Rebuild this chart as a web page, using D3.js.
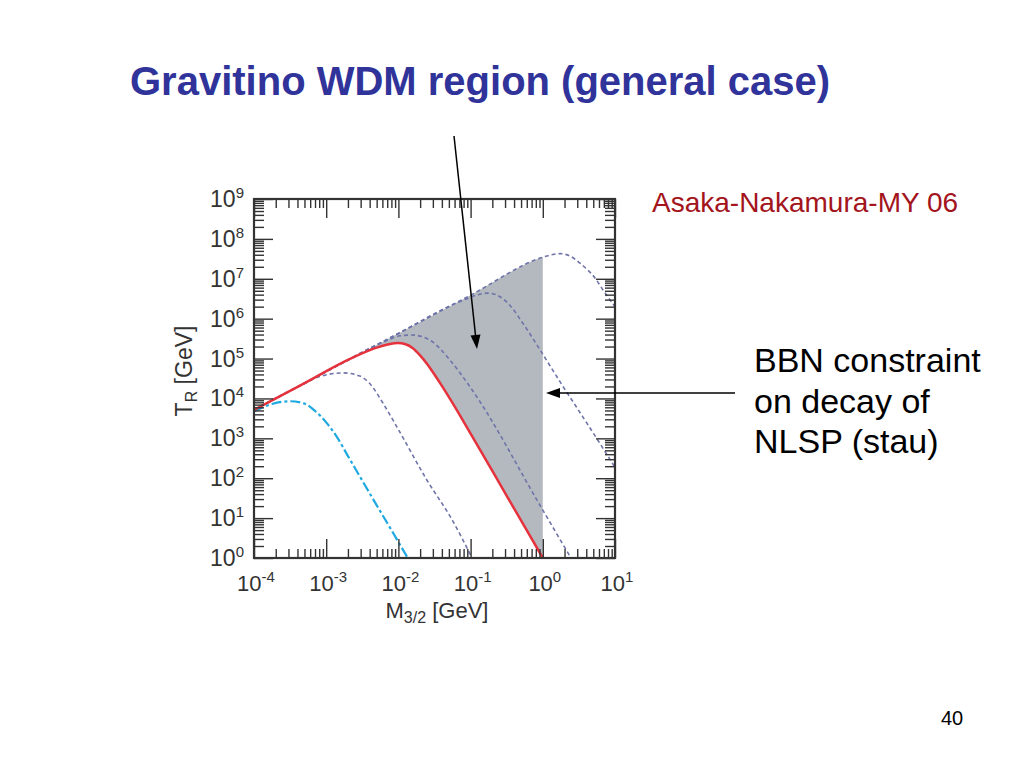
<!DOCTYPE html>
<html><head><meta charset="utf-8">
<script src="https://cdn.jsdelivr.net/npm/d3@7"></script>
<style>body{margin:0;background:#fff}svg{display:block}text{font-family:"Liberation Sans",Arial,sans-serif}</style>
</head><body>
<script>
// ---- data (log10 exponents) ----
const xTickExps = [-4, -3, -2, -1, 0, 1];
const yTickExps = [0, 1, 2, 3, 4, 5, 6, 7, 8, 9];
// red solid curve
const redM = [-4, -3.363, -2.67, -2.324, -2.15, -2.006, -1.9, -1.8, -1.7, -1.6, -1.5, -1.4, -1.285, -1.0, -0.5, 0, 0.1];
const redT = [3.71, 4.32, 4.99, 5.26, 5.35, 5.39, 5.36, 5.26, 5.08, 4.86, 4.6, 4.32, 3.99, 3.12, 1.56, 0, -0.31];
// dashed curves
const dM = [-4, -3.363, -2.67, -2, -1, 0, 0.139, 0.238, 0.377, 0.515, 0.723, 0.834, 1.0];
const dT = [3.71, 4.32, 4.99, 5.63, 6.59, 7.54, 7.61, 7.63, 7.57, 7.39, 7.02, 6.72, 6.3];
const cM = [-4, -2, -1.2, -1.05, -0.898, -0.759, -0.593, -0.454, -0.274, -0.039, 0.238, 0.55, 0.834, 1.0];
const cT = [3.71, 5.63, 6.39, 6.50, 6.60, 6.64, 6.55, 6.33, 5.88, 5.22, 4.42, 3.55, 2.75, 2.27];
const bM = [-4, -3, -2.3, -2.15, -1.978, -1.812, -1.562, -1.285, -1.008, 0, 0.39];
const bT = [3.71, 4.67, 5.34, 5.46, 5.57, 5.59, 5.46, 4.96, 4.29, 1.2, 0];
const aM = [-4, -3.363, -3.086, -2.767, -2.532, -2.4, -2.213, -2.019, -1.604, -1.244, -0.98];
const aT = [3.71, 4.32, 4.55, 4.64, 4.56, 4.38, 3.88, 3.28, 1.95, 0.92, 0];
// cyan dash-dot curve
const eM = [-4, -3.75, -3.5, -3.3, -3.15, -3.0, -2.85, -2.7, -2.5, -2.3, -2.1, -1.87];
const eT = [3.68, 3.86, 3.93, 3.87, 3.68, 3.4, 3.03, 2.56, 1.94, 1.32, 0.71, 0];
// shading right boundary (BBN limit) in GeV exponent
const bbnLimitExp = 0;

const titleText = "Gravitino WDM region (general case)";
const citeText = "Asaka-Nakamura-MY 06";
const noteLines = ["BBN constraint", "on decay of", "NLSP (stau)"];
const pageNum = "40";

// ---- layout ----
const W = 1024, H = 768;
const L = 254, R = 615, T = 199, B = 558;
const svg = d3.select("body").append("svg").attr("width", W).attr("height", H);
svg.append("rect").attr("width", W).attr("height", H).attr("fill", "#fff");

const x = d3.scaleLog().domain([1e-4, 10]).range([L, R]);
const y = d3.scaleLog().domain([1, 1e9]).range([B, T]);
const pts = (ms, ts) => ms.map((m, i) => [Math.pow(10, m), Math.pow(10, ts[i])]);

svg.append("clipPath").attr("id", "plot").append("rect")
  .attr("x", L).attr("y", T).attr("width", R - L).attr("height", B - T);
svg.append("clipPath").attr("id", "shade").append("rect")
  .attr("x", L).attr("y", T).attr("width", x(Math.pow(10, bbnLimitExp)) - L).attr("height", B - T);

const line = d3.line().x(d => x(d[0])).y(d => y(d[1])).curve(d3.curveMonotoneX);
const areaBelow = d3.area().x(d => x(d[0])).y0(B + 5).y1(d => y(d[1])).curve(d3.curveMonotoneX);

const g = svg.append("g").attr("clip-path", "url(#plot)");
g.append("path").attr("clip-path", "url(#shade)").attr("d", areaBelow(pts(dM, dT))).attr("fill", "#b4b9c0");
g.append("path").attr("d", areaBelow(pts(redM, redT))).attr("fill", "#fff");

const dashStyle = p => p.attr("fill", "none").attr("stroke", "#6f74a8").attr("stroke-width", 1.6).attr("stroke-dasharray", "4,3");
[[aM, aT], [bM, bT], [cM, cT], [dM, dT]].forEach(([m, t]) => {
  g.append("path").attr("d", line(pts(m, t))).call(dashStyle);
});
g.append("path").attr("d", line(pts(eM, eT))).attr("fill", "none").attr("stroke", "#1ea9e1")
  .attr("stroke-width", 2.2).attr("stroke-dasharray", "10,3,3,3");
g.append("path").attr("d", line(pts(redM, redT))).attr("fill", "none").attr("stroke", "#e6323c").attr("stroke-width", 2.5);

// ---- axes ----
const xMaj = xTickExps.map(e => Math.pow(10, e));
const yMaj = yTickExps.map(e => Math.pow(10, e));
const minors = (exps) => { const a = []; exps.slice(0, -1).forEach(e => { for (let k = 2; k <= 9; k++) a.push(k * Math.pow(10, e)); }); return a; };
const xMin = minors(xTickExps), yMin = minors(yTickExps);
const styleAxis = sel => { sel.select(".domain").remove(); sel.selectAll("line").attr("stroke", "#333").attr("stroke-width", 1.4); sel.selectAll("text").remove(); };
const addAxis = (axisFn, scale, vals, size, tr) => svg.append("g").attr("transform", tr)
  .call(axisFn(scale).tickValues(vals).tickSize(size).tickFormat("")).call(styleAxis);
addAxis(d3.axisBottom, x, xMaj, -19, `translate(0,${B})`);
addAxis(d3.axisBottom, x, xMin, -9, `translate(0,${B})`);
addAxis(d3.axisTop, x, xMaj, -19, `translate(0,${T})`);
addAxis(d3.axisTop, x, xMin, -9, `translate(0,${T})`);
addAxis(d3.axisLeft, y, yMaj, -19, `translate(${L},0)`);
addAxis(d3.axisLeft, y, yMin, -10, `translate(${L},0)`);
addAxis(d3.axisRight, y, yMaj, -19, `translate(${R},0)`);
addAxis(d3.axisRight, y, yMin, -10, `translate(${R},0)`);
svg.append("rect").attr("x", L).attr("y", T).attr("width", R - L).attr("height", B - T)
  .attr("fill", "none").attr("stroke", "#333").attr("stroke-width", 2.2);

// tick labels
yTickExps.forEach(e => {
  const t = svg.append("text").attr("x", 244).attr("y", y(Math.pow(10, e)) + 8).attr("text-anchor", "end").attr("fill", "#333");
  t.append("tspan").attr("font-size", 23).text("10");
  t.append("tspan").attr("font-size", 15).attr("dy", -9).text(String(e));
});
xTickExps.forEach(e => {
  const t = svg.append("text").attr("x", x(Math.pow(10, e)) + 2).attr("y", 591).attr("text-anchor", "middle").attr("fill", "#333");
  t.append("tspan").attr("font-size", 22).text("10");
  t.append("tspan").attr("font-size", 15).attr("dy", -9).text(String(e));
});
// axis titles
const xt = svg.append("text").attr("x", 437).attr("y", 618).attr("text-anchor", "middle").attr("fill", "#333");
xt.append("tspan").attr("font-size", 22).text("M");
xt.append("tspan").attr("font-size", 16).attr("dy", 5).text("3/2");
xt.append("tspan").attr("font-size", 22).attr("dy", -5).text(" [GeV]");
const yt = svg.append("text").attr("transform", "translate(192,371) rotate(-90)").attr("text-anchor", "middle").attr("fill", "#333");
yt.append("tspan").attr("font-size", 23).text("T");
yt.append("tspan").attr("font-size", 16).attr("dy", 5).text("R");
yt.append("tspan").attr("font-size", 23).attr("dy", -5).text(" [GeV]");

// ---- slide texts ----
svg.append("text").attr("x", 130).attr("y", 95).attr("font-size", 40).attr("font-weight", "bold").attr("fill", "#30339a").text(titleText);
svg.append("text").attr("x", 652).attr("y", 212).attr("font-size", 28).attr("fill", "#a3141c").text(citeText);
noteLines.forEach((s, i) => svg.append("text").attr("x", 754).attr("y", 372 + i * 40.5).attr("font-size", 34).attr("fill", "#000").text(s));
svg.append("text").attr("x", 941).attr("y", 725).attr("font-size", 20).attr("fill", "#000").text(pageNum);

// ---- arrows ----
function arrow(x1, y1, x2, y2) {
  const ang = Math.atan2(y2 - y1, x2 - x1), len = 14, w = 5;
  const bx = x2 - len * Math.cos(ang), by = y2 - len * Math.sin(ang);
  svg.append("line").attr("x1", x1).attr("y1", y1).attr("x2", bx).attr("y2", by).attr("stroke", "#000").attr("stroke-width", 1.5);
  const px = -Math.sin(ang) * w, py = Math.cos(ang) * w;
  svg.append("path").attr("d", `M${x2},${y2}L${bx + px},${by + py}L${bx - px},${by - py}Z`).attr("fill", "#000");
}
arrow(454, 136, 477, 349);
arrow(735, 393, 546, 393);
</script>
</body></html>
